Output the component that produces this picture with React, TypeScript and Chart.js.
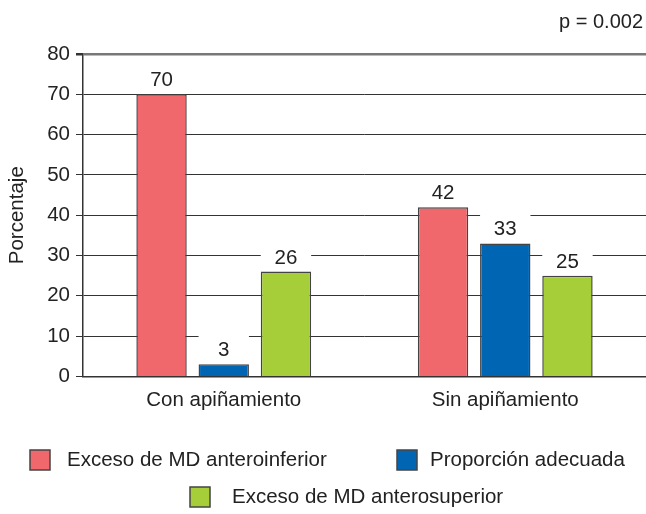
import React, { useEffect, useRef } from 'react';
import { Chart, registerables } from 'chart.js';

Chart.register(...registerables);

const categories = ['Con apiñamiento', 'Sin apiñamiento'];
const seriesLabels = ['Exceso de MD anteroinferior', 'Proporción adecuada', 'Exceso de MD anterosuperior'];
const anteroinferior = [70, 42];
const adecuada = [3, 33];
const anterosuperior = [26, 25];
const seriesColors = ['#F0686B', '#0066B3', '#A6CE39'];
const yMin = 0;
const yMax = 80;
const yStep = 10;
const yTitle = 'Porcentaje';
const pValueText = 'p = 0.002';

const FONT = '"Liberation Sans", Arial, Helvetica, sans-serif';
const FS = 20.5;
const TEXT = '#222';

const valueLabels = {
  id: 'valueLabels',
  afterDatasetsDraw(chart: any) {
    const ctx = chart.ctx;
    ctx.save();
    ctx.font = `${FS}px ${FONT}`;
    ctx.textAlign = 'center';
    ctx.textBaseline = 'alphabetic';
    chart.data.datasets.forEach((ds: any, di: number) => {
      const meta = chart.getDatasetMeta(di);
      meta.data.forEach((bar: any, i: number) => {
        const v = ds.data[i];
        const w = bar.width;
        ctx.fillStyle = '#fff';
        ctx.fillRect(bar.x - w / 2, bar.y - 31, w, 30);
        ctx.fillStyle = TEXT;
        ctx.fillText(String(v), bar.x, bar.y - 8);
      });
    });
    ctx.restore();
  },
};

const extras = {
  id: 'extras',
  afterDraw(chart: any) {
    const ctx = chart.ctx;
    ctx.save();
    ctx.fillStyle = TEXT;
    ctx.font = `20px ${FONT}`;
    ctx.textAlign = 'right';
    ctx.textBaseline = 'middle';
    ctx.fillText(pValueText, 643, 22);

    // legend
    const items = [
      { box: [30, 450], text: [67, 460] },
      { box: [397, 450], text: [430, 460] },
      { box: [190, 487], text: [232, 497] },
    ];
    ctx.font = `${FS}px ${FONT}`;
    ctx.textAlign = 'left';
    chart.data.datasets.forEach((ds: any, i: number) => {
      const it = items[i];
      ctx.fillStyle = ds.backgroundColor;
      ctx.fillRect(it.box[0], it.box[1], 20, 20);
      ctx.strokeStyle = '#444';
      ctx.lineWidth = 1.5;
      ctx.strokeRect(it.box[0], it.box[1], 20, 20);
      ctx.fillStyle = TEXT;
      ctx.fillText(ds.label, it.text[0], it.text[1]);
    });
    ctx.restore();
  },
};

export default function App() {
  const ref = useRef<HTMLCanvasElement | null>(null);
  useEffect(() => {
    if (!ref.current) return;
    const mk = (label: string, data: number[], color: string) => ({
      label,
      data,
      backgroundColor: color,
      borderColor: '#444',
      borderWidth: 1.5,
      categoryPercentage: 0.663,
      barPercentage: 0.81,
    });
    const chart = new Chart(ref.current, {
      type: 'bar',
      data: {
        labels: categories,
        datasets: [
          mk(seriesLabels[0], anteroinferior, seriesColors[0]),
          mk(seriesLabels[1], adecuada, seriesColors[1]),
          mk(seriesLabels[2], anterosuperior, seriesColors[2]),
        ],
      },
      options: {
        responsive: false,
        animation: false,
        layout: { padding: { top: 54, left: 4, right: 0, bottom: 89 } },
        plugins: {
          legend: { display: false },
          tooltip: { enabled: false },
          title: { display: false },
        },
        scales: {
          x: {
            grid: { display: false, drawTicks: false },
            border: { display: true, color: '#333', width: 1.5 },
            ticks: { color: TEXT, font: { family: FONT, size: FS }, padding: 12 },
          },
          y: {
            min: yMin,
            max: yMax,
            afterFit(scale: any) {
              scale.width = 79;
            },
            ticks: { stepSize: yStep, color: TEXT, font: { family: FONT, size: FS }, padding: 6 },
            grid: {
              color: (c: any) => (c.tick && c.tick.value === yMax ? '#777' : '#333'),
              lineWidth: (c: any) => (c.tick && c.tick.value === yMax ? 2.5 : 1),
              tickLength: 7,
              tickColor: '#333',
            },
            border: { display: true, color: '#333', width: 1.5 },
            title: {
              display: true,
              text: yTitle,
              color: TEXT,
              font: { family: FONT, size: FS },
              padding: { top: 1, bottom: 0 },
            },
          },
        },
      },
      plugins: [valueLabels, extras],
    });
    return () => chart.destroy();
  }, []);
  return (
    <div style={{ position: 'absolute', left: 0, top: 0, width: 646, height: 514, background: '#fff' }}>
      <canvas ref={ref} width={646} height={514} />
    </div>
  );
}
